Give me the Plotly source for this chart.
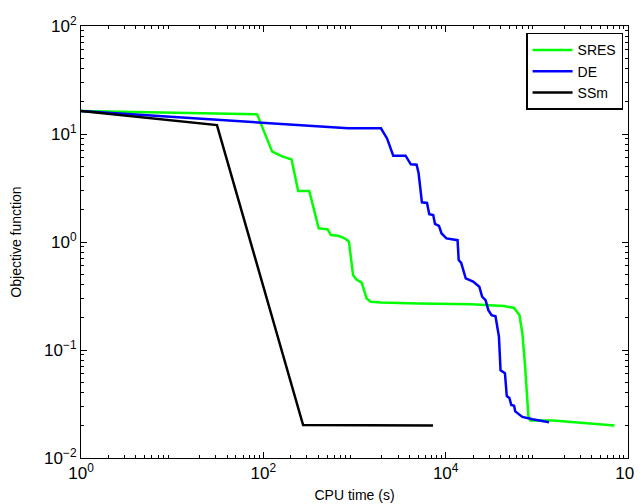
import plotly.graph_objects as go

# ---- data ----
sres_t = [1, 85.6, 125, 163, 204, 241, 319, 365, 405, 508, 552, 657, 750, 834, 870, 964, 1050, 1198, 1270, 1358, 1506, 1950,
          5000, 19000, 43500, 56300, 64400, 69400, 74400, 80900, 85100, 151000, 711000]
sres_f = [16.3, 15.2, 6.86, 6.17, 5.82, 2.97, 2.97, 1.84, 1.34, 1.31, 1.16, 1.14, 1.1, 1.04, 1.0, 0.494, 0.45, 0.42, 0.36, 0.30, 0.28, 0.275,
          0.27, 0.265, 0.255, 0.245, 0.211, 0.143, 0.070, 0.0242, 0.0222, 0.0222, 0.020]

de_t = [1, 97, 851, 1950, 2275, 2660, 3630, 4150, 4800, 5050, 5490, 6240, 6610, 7300, 7640, 8440, 9020, 10200, 13500, 13900,
        14800, 16600, 20000, 23400, 25100, 27400, 29400, 31900, 35200, 38400, 40000, 44700, 46800, 50000, 52400, 56300, 58000,
        69400, 89700, 136000]
de_f = [16.3, 12.6, 11.3, 11.3, 9.1, 6.3, 6.3, 5.24, 5.2, 4.33, 2.33, 2.3, 1.81, 1.78, 1.47, 1.41, 1.2, 1.08, 1.04, 0.68,
        0.64, 0.46, 0.43, 0.385, 0.312, 0.29, 0.234, 0.21, 0.205, 0.133, 0.065, 0.061, 0.0375, 0.036, 0.031, 0.0305, 0.027,
        0.024, 0.0228, 0.0214]

ssm_t = [1, 31, 273, 7260]
ssm_f = [16.3, 12.1, 0.0202, 0.0200]

x_tickvals = [1, 100, 10000, 1000000]
x_ticktext = ["10<sup>0</sup>", "10<sup>2</sup>", "10<sup>4</sup>", "10<sup>6</sup>"]
y_tickvals = [0.01, 0.1, 1, 10, 100]
y_ticktext = ["10<sup>−2</sup>", "10<sup>−1</sup>", "10<sup>0</sup>", "10<sup>1</sup>", "10<sup>2</sup>"]

x_minor = [m * 10 ** e for e in range(0, 6) for m in range(2, 10)]
y_minor = [m * 10.0 ** e for e in range(-2, 2) for m in range(2, 10)]

fig = go.Figure()
fig.add_trace(go.Scatter(x=sres_t, y=sres_f, mode="lines", name="SRES",
                         line=dict(color="#00ff00", width=2.5)))
fig.add_trace(go.Scatter(x=de_t, y=de_f, mode="lines", name="DE",
                         line=dict(color="#0000ff", width=2.5)))
fig.add_trace(go.Scatter(x=ssm_t, y=ssm_f, mode="lines", name="SSm",
                         line=dict(color="#000000", width=2.5)))

axis_common = dict(
    showgrid=False, zeroline=False, showline=True, linecolor="black", linewidth=1,
    mirror="ticks", ticks="inside", ticklen=6, tickcolor="black",
    tickfont=dict(size=17, color="black"), automargin=False,
)

fig.update_xaxes(type="log", range=[0, 6], tickvals=x_tickvals, ticktext=x_ticktext,
                 minor=dict(tickvals=x_minor, ticks="inside", ticklen=3, tickcolor="black"),
                 title=dict(text="CPU time (s)", font=dict(size=14, color="black"), standoff=7),
                 **axis_common)
fig.update_yaxes(type="log", range=[-2, 2], tickvals=y_tickvals, ticktext=y_ticktext,
                 minor=dict(tickvals=y_minor, ticks="inside", ticklen=3, tickcolor="black"),
                 title=dict(text="Objective function", font=dict(size=14, color="black"), standoff=20),
                 **axis_common)

# page body has an 8px margin, so the figure is offset by 8px
fig.update_layout(
    width=634, height=496,
    margin=dict(l=73, r=14, t=18, b=46),
    paper_bgcolor="white", plot_bgcolor="white",
    font=dict(family="Liberation Sans, Arial, sans-serif", color="black"),
    showlegend=True,
    legend=dict(x=0.991, y=0.984, xanchor="right", yanchor="top",
                bordercolor="black", borderwidth=1.5, bgcolor="white",
                font=dict(size=14, color="black"), tracegroupgap=0,
                itemwidth=40),
)

fig.write_html("out.html")
